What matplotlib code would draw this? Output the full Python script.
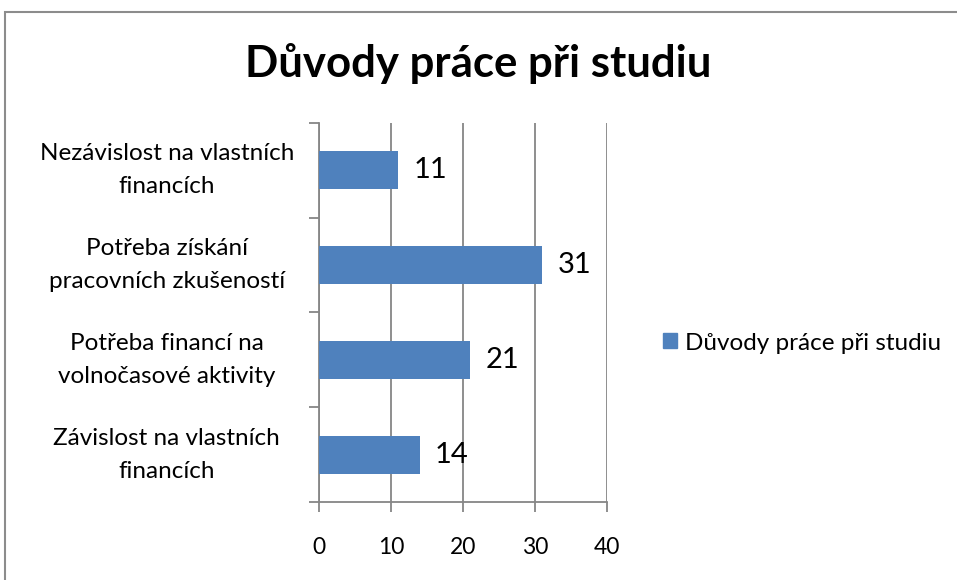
import matplotlib.pyplot as plt
import matplotlib.patches as mpatches

categories = ['Závislost na vlastních\nfinancích',
              'Potřeba financí na\nvolnočasové aktivity',
              'Potřeba získání\npracovních zkušeností',
              'Nezávislost na vlastních\nfinancích']
values = [14, 21, 31, 11]
x_ticks = [0, 10, 20, 30, 40]
title = 'Důvody práce při studiu'
series_name = 'Důvody práce při studiu'

bar_color = '#4F81BD'
grid_color = '#868686'

plt.rcParams['font.family'] = ['Lato', 'DejaVu Sans']

fig = plt.figure(figsize=(9.57, 5.8), dpi=100)
ax = fig.add_axes([0.3333, 0.1345, 0.301, 0.6535])

y = list(range(len(categories)))
bars = ax.barh(y, values, height=0.4, color=bar_color, zorder=3)

ax.set_xlim(0, 40)
ax.set_ylim(-0.5, len(categories) - 0.5)
ax.set_xticks(x_ticks)
ax.set_xticklabels([str(t) for t in x_ticks], fontsize=16.5)
ax.set_yticks([i - 0.5 for i in range(len(categories) + 1)])
ax.set_yticklabels([])
ax.tick_params(axis='y', length=7, width=1.3, color=grid_color, direction='out')
ax.tick_params(axis='x', length=7, width=1.3, color=grid_color, direction='out', pad=18)

# category labels, centred in the left margin
for i, c in enumerate(categories):
    ax.text(-0.528, i, c, ha='center', va='center', fontsize=17.5,
            transform=ax.get_yaxis_transform(), linespacing=1.7)

for rect, v in zip(bars, values):
    ax.annotate(str(v), xy=(rect.get_width(), rect.get_y() + rect.get_height() / 2),
                xytext=(11, 0), textcoords='offset points', ha='left', va='center',
                fontsize=21)

ax.xaxis.grid(True, color=grid_color, linewidth=1.3, zorder=0)
for s in ['top', 'right']:
    ax.spines[s].set_visible(False)
for s in ['left', 'bottom']:
    ax.spines[s].set_color(grid_color)
    ax.spines[s].set_linewidth(1.3)

fig.text(0.5, 0.89, title, ha='center', va='center', fontsize=31.5, fontweight='bold')

handle = mpatches.Patch(color=bar_color, label=series_name)
fig.legend(handles=[handle], loc='center left', bbox_to_anchor=(0.693, 0.4086),
           frameon=False, fontsize=17.5, handlelength=0.58, handleheight=0.58,
           handletextpad=0.33, borderpad=0, borderaxespad=0)

# chart area border
fig.patches.append(mpatches.Rectangle((5 / 957, -0.1), 1.2, 1 - 12 / 580 + 0.1,
                                      transform=fig.transFigure, fill=False,
                                      edgecolor='#8c8c8c', linewidth=1.5))

fig.savefig('out.png', dpi=100)
